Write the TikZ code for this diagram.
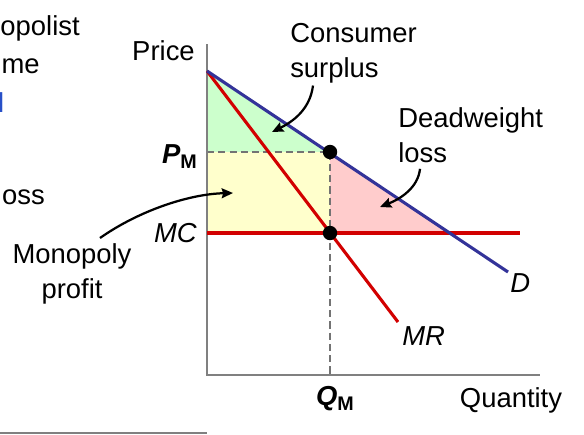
\documentclass[tikz,border=0pt]{standalone}
\usepackage{fontspec}
\setmainfont{Liberation Sans}
\usetikzlibrary{arrows.meta}
\definecolor{cDemand}{RGB}{51,51,153}
\definecolor{cCost}{RGB}{210,0,0}
\definecolor{cCS}{RGB}{204,255,204}
\definecolor{cProfit}{RGB}{255,255,204}
\definecolor{cDWL}{RGB}{255,204,204}
\definecolor{cAxis}{RGB}{128,128,128}
\definecolor{cSlide}{RGB}{40,80,200}

\tikzset{
  lbl/.style={font=\fontsize{19.5}{25}\selectfont, inner sep=0pt},
  curve/.style={line width=2.2pt},
  pointer/.style={-{Stealth[length=8pt,width=7pt,inset=1pt]}, line width=1.6pt},
  dot/.style={circle, fill=black, inner sep=0pt, minimum size=0.36cm},
}
\newcommand{\sym}[1]{{\bfseries\itshape #1}\raisebox{-0.35ex}{\bfseries\fontsize{14}{16}\selectfont M}}

\begin{document}
\begin{tikzpicture}[x=0.025cm,y=-0.025cm]
 \useasboundingbox (0,0) rectangle (584,434);
 % ---- cut-off slide text on the left ----
 \node[lbl, anchor=base east] (slideA) at (80,35) {opolist};
 \node[lbl, anchor=base east] (slideB) at (40,73) {me};
 \node[lbl, anchor=base east, text=cSlide] (slideC) at (4.5,112) {l};
 \node[lbl, anchor=base east] (slideD) at (45,204) {oss};
 \draw[cAxis, line width=1pt] (0,433) -- (207,433);
 % ---- key points ----
 \coordinate (top) at (207,71);
 \coordinate (pm) at (330,152);
 \coordinate (mc) at (330,233);
 \coordinate (cross) at (450,233);
 \coordinate (origin) at (207,375);
 % ---- areas ----
 \fill[cCS] (top) -- (pm) -- (207,152) -- cycle;
 \fill[cProfit] (207,152) rectangle (mc);
 \fill[cDWL] (pm) -- (cross) -- (mc) -- cycle;
 % guides
 \draw[cAxis!90!black, line width=1pt, dash pattern=on 5pt off 3pt] (207,152) -- (pm) -- (330,375);
 % axes
 \draw[cAxis, line width=1.4pt] (207,44) -- (origin) -- (540,375);
 % curves
 \draw[curve, cCost] (207,233) -- (520,233);
 \draw[curve, cCost] (top) -- (398,322);
 \draw[curve, cDemand] (top) -- (508,272);
 \node[dot] (pmdot) at (pm) {};
 \node[dot] (mcdot) at (mc) {};
 % ---- labels ----
 \node[lbl, anchor=base east] (price) at (195,60) {Price};
 \node[lbl, anchor=base east] (pmlbl) at (197,163) {\sym{P}};
 \node[lbl, anchor=base east] (mclbl) at (197,242) {\itshape MC};
 \node[lbl, anchor=base] (qmlbl) at (335,405) {\sym{Q}};
 \node[lbl, anchor=base] (qty) at (511,407) {Quantity};
 \node[lbl, anchor=base west] (dlbl) at (510,292) {\itshape D};
 \node[lbl, anchor=base west] (mrlbl) at (402,345) {\itshape MR};
 \node[lbl, anchor=north west, align=left] (cs) at (290,23) {Consumer\\surplus};
 \node[lbl, anchor=north west, align=left] (dwl) at (398,107) {Deadweight\\loss};
 \node[lbl, anchor=north, align=center] (profit) at (72,243) {Monopoly\\profit};
 % ---- pointers ----
 \coordinate (csTip) at (272,132);
 \coordinate (dwlTip) at (380,207);
 \coordinate (profitTip) at (233,193);
 \draw[pointer] (cs.south west) ++(23,2) .. controls (310,110) and (292,122) .. (csTip);
 \draw[pointer] (dwl.south west) ++(22,6) .. controls (418,188) and (400,199) .. (dwlTip);
 \draw[pointer] (profit.north) ++(28,-5) .. controls (140,210) and (190,194) .. (profitTip);
\end{tikzpicture}
\end{document}
